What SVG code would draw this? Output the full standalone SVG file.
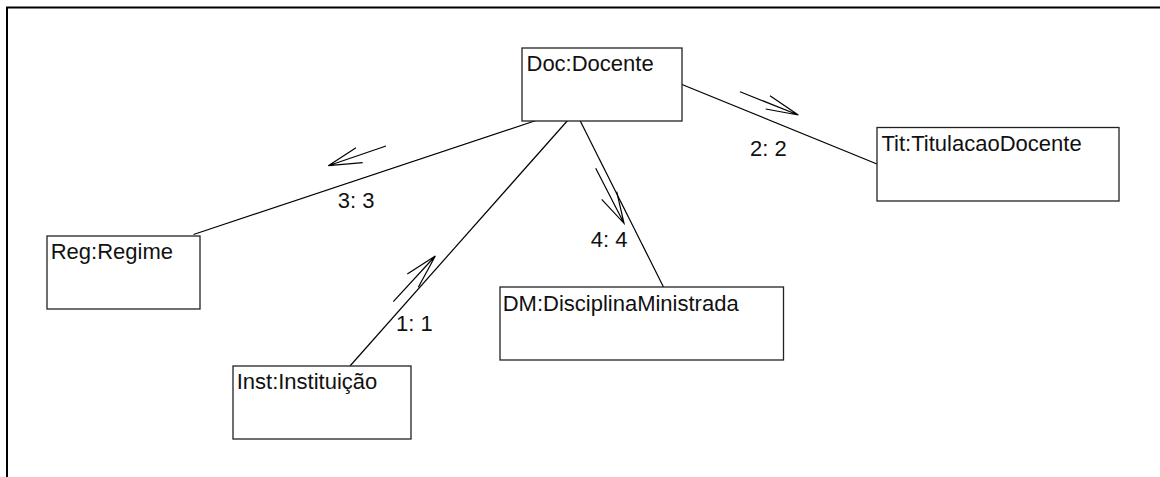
<svg xmlns="http://www.w3.org/2000/svg" width="1160" height="477" viewBox="0 0 1160 477">
<style>
.box{fill:#fff;stroke:#222;stroke-width:1.3}
.lbl{font-family:"Liberation Sans",Arial,sans-serif;font-size:22px;fill:#111}
.ln{stroke:#000;stroke-width:1.2;fill:none}
.frame{stroke:#000;stroke-width:2;fill:none}
</style>
<rect width="1160" height="477" fill="#fff"/>
<path class="frame" d="M7,477 V7.5 H1160"/>
<g id="connectors">
<line class="ln" x1="682" y1="84.5" x2="877" y2="164"/>
<line class="ln" x1="539" y1="119.5" x2="193.5" y2="234.5"/>
<line class="ln" x1="568.5" y1="119.5" x2="350" y2="366"/>
<line class="ln" x1="579.5" y1="119.5" x2="663.5" y2="287"/>
<path class="ln" d="M740,91.7 L798.3,115 M770,95.7 L798.3,115 L765.7,109"/>
<path class="ln" d="M386,146 L328.3,165.7 M356,147.7 L328.3,165.7 L362.7,162.7"/>
<path class="ln" d="M393.3,301.7 L435.3,256 M407.3,274 L435.3,256 L418.3,287.3"/>
<path class="ln" d="M595.7,168.3 L624,223.3 M601.7,199.3 L624,223.3 L616.7,191.7"/>
<text class="lbl" x="750" y="155.7">2: 2</text>
<text class="lbl" x="337.7" y="207.7">3: 3</text>
<text class="lbl" x="396" y="331">1: 1</text>
<text class="lbl" x="590.7" y="246.7">4: 4</text>
</g>
<g id="doc">
<rect class="box" x="522" y="48" width="160" height="73"/>
<text class="lbl" x="526.5" y="71">Doc:Docente</text>
</g>
<g id="tit">
<rect class="box" x="877" y="127.5" width="242" height="73.5"/>
<text class="lbl" x="881.5" y="151">Tit:TitulacaoDocente</text>
</g>
<g id="reg">
<rect class="box" x="47" y="236" width="153" height="73"/>
<text class="lbl" x="50.7" y="259">Reg:Regime</text>
</g>
<g id="inst">
<rect class="box" x="233" y="366" width="178" height="73"/>
<text class="lbl" x="236.7" y="389.3">Inst:Instituição</text>
</g>
<g id="dm">
<rect class="box" x="500" y="287" width="283.5" height="73"/>
<text class="lbl" x="502.7" y="311">DM:DisciplinaMinistrada</text>
</g>
</svg>
